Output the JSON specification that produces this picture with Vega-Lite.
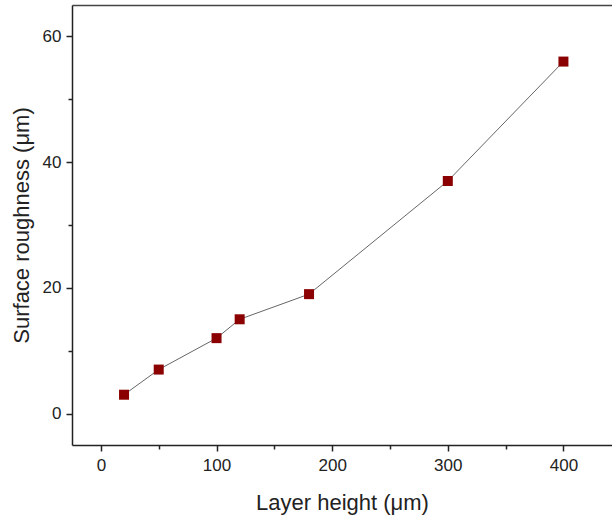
{
  "$schema": "https://vega.github.io/schema/vega-lite/v6.json",
  "autosize": "none",
  "padding": {"left": 72, "top": 5, "right": 0, "bottom": 80},
  "width": 540,
  "height": 440,
  "background": "white",
  "config": {
    "view": {"stroke": null},
    "font": "Liberation Sans",
    "axis": {
      "grid": false,
      "domainColor": "#222",
      "domainWidth": 1.5,
      "tickColor": "#222",
      "tickWidth": 1.5,
      "labelFont": "Liberation Sans",
      "labelFontSize": 17,
      "labelColor": "#222",
      "titleFont": "Liberation Sans",
      "titleFontSize": 22,
      "titleFontWeight": "normal",
      "titleColor": "#222"
    }
  },
  "data": {
    "values": [
      {"h": 20, "r": 3},
      {"h": 50, "r": 7},
      {"h": 100, "r": 12},
      {"h": 120, "r": 15},
      {"h": 180, "r": 19},
      {"h": 300, "r": 37},
      {"h": 400, "r": 56}
    ]
  },
  "layer": [
    {
      "mark": {"type": "line", "color": "#666", "strokeWidth": 1},
      "encoding": {
        "x": {
          "field": "h", "type": "quantitative",
          "scale": {"domain": [-25, 442], "nice": false, "zero": false},
          "axis": {
            "title": "Layer height (μm)",
            "values": [0, 50, 100, 150, 200, 250, 300, 350, 400],
            "labelExpr": "datum.value % 100 === 0 ? datum.label : ''",
            "tickSize": {"condition": {"test": "datum.value % 100 === 0", "value": 6}, "value": 4},
            "labelPadding": 6, "titlePadding": 19
          }
        },
        "y": {
          "field": "r", "type": "quantitative",
          "scale": {"domain": [-5, 65], "nice": false, "zero": false},
          "axis": {
            "title": "Surface roughness (μm)",
            "values": [0, 10, 20, 30, 40, 50, 60],
            "labelExpr": "datum.value % 20 === 0 ? datum.label : ''",
            "tickSize": {"condition": {"test": "datum.value % 20 === 0", "value": 6}, "value": 4},
            "labelPadding": 5, "titlePadding": 9
          }
        }
      }
    },
    {
      "mark": {"type": "square", "color": "#8B0000", "opacity": 1, "size": 100, "filled": true},
      "encoding": {
        "x": {"field": "h", "type": "quantitative", "axis": {"orient": "top", "title": null, "labels": false, "ticks": false, "domainColor": "#444"}},
        "y": {"field": "r", "type": "quantitative"}
      }
    }
  ],
  "resolve": {"axis": {"x": "independent"}}
}
